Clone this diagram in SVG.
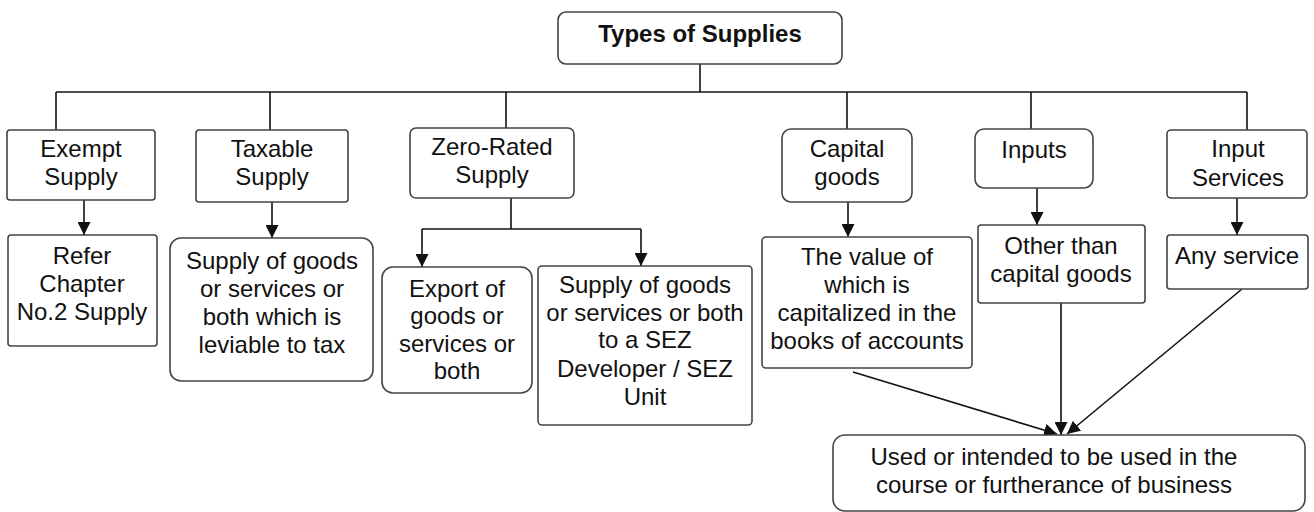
<svg xmlns="http://www.w3.org/2000/svg" width="1314" height="512" viewBox="0 0 1314 512">
<style>
.box{fill:#fff;stroke:#444;stroke-width:1.6}
.t{font-family:"Liberation Sans",Arial,sans-serif;font-size:24px;fill:#111;text-anchor:middle}
.b{font-weight:bold}
.c{stroke:#111;stroke-width:1.6;fill:none}
.a{marker-end:url(#ah)}
</style>
<defs>
<marker id="ah" markerWidth="13" markerHeight="13" refX="13" refY="6.5" orient="auto" markerUnits="userSpaceOnUse">
<path d="M0,0 L13,6.5 L0,13 z" fill="#111"/>
</marker>
</defs>
<rect width="1314" height="512" fill="#fff"/>
<g id="connectors">
<line class="c" x1="700" y1="64" x2="700" y2="92"/>
<line class="c" x1="56" y1="92" x2="1247" y2="92"/>
<line class="c" x1="56" y1="92" x2="56" y2="130"/>
<line class="c" x1="270" y1="92" x2="270" y2="130"/>
<line class="c" x1="506" y1="92" x2="506" y2="128"/>
<line class="c" x1="847" y1="92" x2="847" y2="129"/>
<line class="c" x1="1031" y1="92" x2="1031" y2="129"/>
<line class="c" x1="1247" y1="92" x2="1247" y2="130"/>
<line class="c a" x1="84" y1="200" x2="84" y2="235"/>
<line class="c a" x1="272" y1="202" x2="272" y2="238"/>
<line class="c" x1="511" y1="198" x2="511" y2="229"/>
<line class="c" x1="422" y1="229" x2="641" y2="229"/>
<line class="c a" x1="422" y1="229" x2="422" y2="267"/>
<line class="c a" x1="641" y1="229" x2="641" y2="266"/>
<line class="c a" x1="848" y1="202" x2="848" y2="237"/>
<line class="c a" x1="1037" y1="188" x2="1037" y2="225"/>
<line class="c a" x1="1237" y1="198" x2="1237" y2="235"/>
<line class="c a" x1="853" y1="372" x2="1057" y2="434"/>
<line class="c a" x1="1061" y1="303" x2="1061" y2="435"/>
<line class="c a" x1="1242" y1="289" x2="1067" y2="434"/>
</g>
<g id="n-types">
<rect class="box" x="558" y="12" width="284" height="52" rx="8"/>
<text class="t b" x="700" y="42">Types of Supplies</text>
</g>
<g id="n-exempt">
<rect class="box" x="7" y="130" width="148" height="70" rx="3"/>
<text class="t" x="81" y="157">Exempt</text>
<text class="t" x="81" y="185">Supply</text>
</g>
<g id="n-taxable">
<rect class="box" x="196" y="130" width="152" height="72" rx="3"/>
<text class="t" x="272" y="157">Taxable</text>
<text class="t" x="272" y="185">Supply</text>
</g>
<g id="n-zero">
<rect class="box" x="410" y="128" width="164" height="70" rx="6"/>
<text class="t" x="492" y="155">Zero-Rated</text>
<text class="t" x="492" y="183">Supply</text>
</g>
<g id="n-capital">
<rect class="box" x="782" y="129" width="130" height="73" rx="9"/>
<text class="t" x="847" y="157">Capital</text>
<text class="t" x="847" y="185">goods</text>
</g>
<g id="n-inputs">
<rect class="box" x="975" y="129" width="118" height="59" rx="9"/>
<text class="t" x="1034" y="158">Inputs</text>
</g>
<g id="n-inputservices">
<rect class="box" x="1167" y="130" width="140" height="68" rx="4"/>
<text class="t" x="1238" y="157">Input</text>
<text class="t" x="1238" y="186">Services</text>
</g>
<g id="n-refer">
<rect class="box" x="8" y="235" width="149" height="111" rx="3"/>
<text class="t" x="82" y="264">Refer</text>
<text class="t" x="82" y="292">Chapter</text>
<text class="t" x="82" y="320">No.2 Supply</text>
</g>
<g id="n-taxdesc">
<rect class="box" x="170" y="238" width="203" height="143" rx="11"/>
<text class="t" x="272" y="269">Supply of goods</text>
<text class="t" x="272" y="297">or services or</text>
<text class="t" x="272" y="325">both which is</text>
<text class="t" x="272" y="353">leviable to tax</text>
</g>
<g id="n-export">
<rect class="box" x="382" y="267" width="150" height="126" rx="11"/>
<text class="t" x="457" y="297">Export of</text>
<text class="t" x="457" y="324">goods or</text>
<text class="t" x="457" y="352">services or</text>
<text class="t" x="457" y="379">both</text>
</g>
<g id="n-sez">
<rect class="box" x="538" y="266" width="214" height="159" rx="4"/>
<text class="t" x="645" y="293">Supply of goods</text>
<text class="t" x="645" y="321">or services or both</text>
<text class="t" x="645" y="348">to a SEZ</text>
<text class="t" x="645" y="377">Developer / SEZ</text>
<text class="t" x="645" y="405">Unit</text>
</g>
<g id="n-value">
<rect class="box" x="762" y="237" width="210" height="131" rx="4"/>
<text class="t" x="867" y="265">The value of</text>
<text class="t" x="867" y="293">which is</text>
<text class="t" x="867" y="321">capitalized in the</text>
<text class="t" x="867" y="349">books of accounts</text>
</g>
<g id="n-other">
<rect class="box" x="978" y="225" width="167" height="78" rx="3"/>
<text class="t" x="1061" y="254">Other than</text>
<text class="t" x="1061" y="282">capital goods</text>
</g>
<g id="n-any">
<rect class="box" x="1167" y="235" width="141" height="54" rx="3"/>
<text class="t" x="1237" y="264">Any service</text>
</g>
<g id="n-used">
<rect class="box" x="833" y="435" width="472" height="76" rx="12"/>
<text class="t" x="1054" y="465">Used or intended to be used in the</text>
<text class="t" x="1054" y="493">course or furtherance of business</text>
</g>
</svg>
